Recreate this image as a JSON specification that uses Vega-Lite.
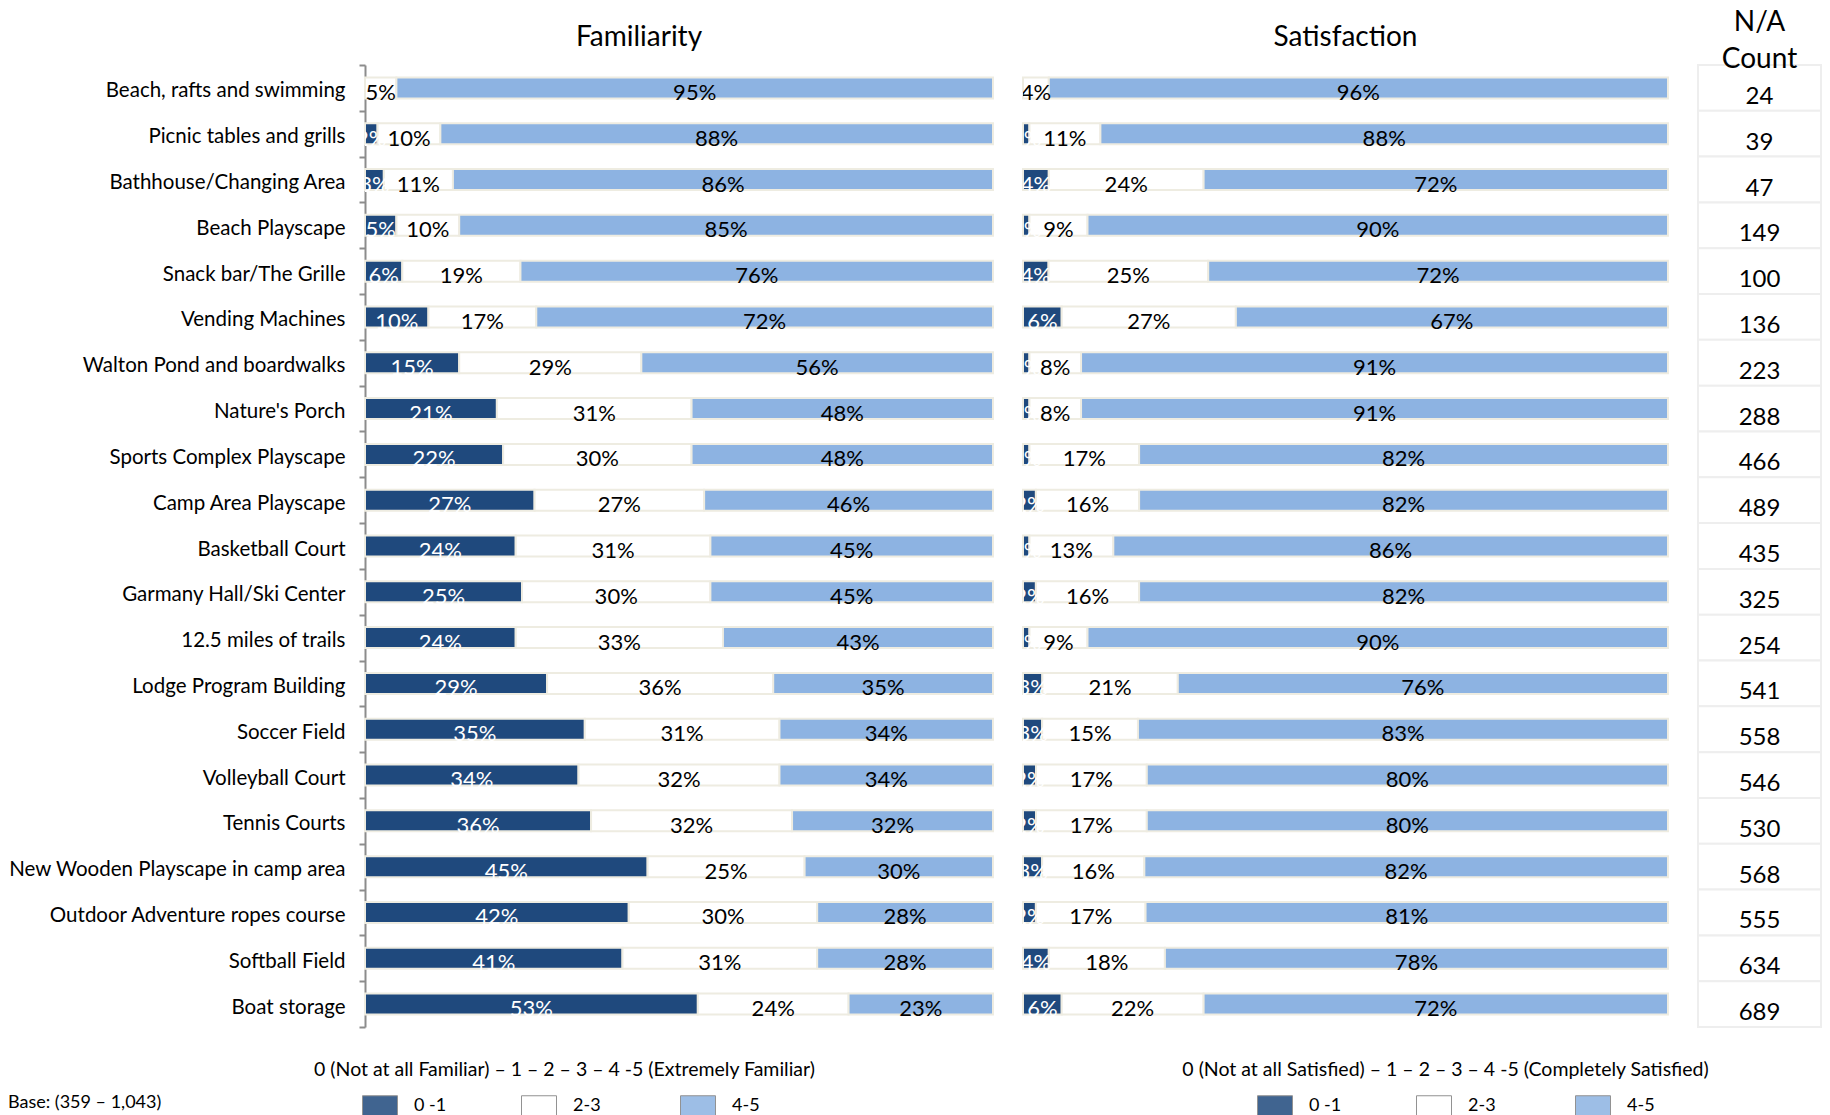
{
"$schema": "https://vega.github.io/schema/vega-lite/v6.json",
"padding": {"left": 8, "top": 9, "right": 0, "bottom": 0},
"config": {"view": {"stroke": null}, "font": "Lato", "title": {"font": "Lato", "fontWeight": "normal", "color": "#000000", "frame": "group"}},
"datasets": {
"d": [
{"item":"Beach, rafts and swimming","cat":"0 -1","fam":0,"sat":0},
{"item":"Beach, rafts and swimming","cat":"2-3","fam":0.05,"sat":0.04},
{"item":"Beach, rafts and swimming","cat":"4-5","fam":0.95,"sat":0.96},
{"item":"Picnic tables and grills","cat":"0 -1","fam":0.02,"sat":0.01},
{"item":"Picnic tables and grills","cat":"2-3","fam":0.10,"sat":0.11},
{"item":"Picnic tables and grills","cat":"4-5","fam":0.88,"sat":0.88},
{"item":"Bathhouse/Changing Area","cat":"0 -1","fam":0.03,"sat":0.04},
{"item":"Bathhouse/Changing Area","cat":"2-3","fam":0.11,"sat":0.24},
{"item":"Bathhouse/Changing Area","cat":"4-5","fam":0.86,"sat":0.72},
{"item":"Beach Playscape","cat":"0 -1","fam":0.05,"sat":0.01},
{"item":"Beach Playscape","cat":"2-3","fam":0.10,"sat":0.09},
{"item":"Beach Playscape","cat":"4-5","fam":0.85,"sat":0.90},
{"item":"Snack bar/The Grille","cat":"0 -1","fam":0.06,"sat":0.04},
{"item":"Snack bar/The Grille","cat":"2-3","fam":0.19,"sat":0.25},
{"item":"Snack bar/The Grille","cat":"4-5","fam":0.76,"sat":0.72},
{"item":"Vending Machines","cat":"0 -1","fam":0.10,"sat":0.06},
{"item":"Vending Machines","cat":"2-3","fam":0.17,"sat":0.27},
{"item":"Vending Machines","cat":"4-5","fam":0.72,"sat":0.67},
{"item":"Walton Pond and boardwalks","cat":"0 -1","fam":0.15,"sat":0.01},
{"item":"Walton Pond and boardwalks","cat":"2-3","fam":0.29,"sat":0.08},
{"item":"Walton Pond and boardwalks","cat":"4-5","fam":0.56,"sat":0.91},
{"item":"Nature's Porch","cat":"0 -1","fam":0.21,"sat":0.01},
{"item":"Nature's Porch","cat":"2-3","fam":0.31,"sat":0.08},
{"item":"Nature's Porch","cat":"4-5","fam":0.48,"sat":0.91},
{"item":"Sports Complex Playscape","cat":"0 -1","fam":0.22,"sat":0.01},
{"item":"Sports Complex Playscape","cat":"2-3","fam":0.30,"sat":0.17},
{"item":"Sports Complex Playscape","cat":"4-5","fam":0.48,"sat":0.82},
{"item":"Camp Area Playscape","cat":"0 -1","fam":0.27,"sat":0.02},
{"item":"Camp Area Playscape","cat":"2-3","fam":0.27,"sat":0.16},
{"item":"Camp Area Playscape","cat":"4-5","fam":0.46,"sat":0.82},
{"item":"Basketball Court","cat":"0 -1","fam":0.24,"sat":0.01},
{"item":"Basketball Court","cat":"2-3","fam":0.31,"sat":0.13},
{"item":"Basketball Court","cat":"4-5","fam":0.45,"sat":0.86},
{"item":"Garmany Hall/Ski Center","cat":"0 -1","fam":0.25,"sat":0.02},
{"item":"Garmany Hall/Ski Center","cat":"2-3","fam":0.30,"sat":0.16},
{"item":"Garmany Hall/Ski Center","cat":"4-5","fam":0.45,"sat":0.82},
{"item":"12.5 miles of trails","cat":"0 -1","fam":0.24,"sat":0.01},
{"item":"12.5 miles of trails","cat":"2-3","fam":0.33,"sat":0.09},
{"item":"12.5 miles of trails","cat":"4-5","fam":0.43,"sat":0.90},
{"item":"Lodge Program Building","cat":"0 -1","fam":0.29,"sat":0.03},
{"item":"Lodge Program Building","cat":"2-3","fam":0.36,"sat":0.21},
{"item":"Lodge Program Building","cat":"4-5","fam":0.35,"sat":0.76},
{"item":"Soccer Field","cat":"0 -1","fam":0.35,"sat":0.03},
{"item":"Soccer Field","cat":"2-3","fam":0.31,"sat":0.15},
{"item":"Soccer Field","cat":"4-5","fam":0.34,"sat":0.83},
{"item":"Volleyball Court","cat":"0 -1","fam":0.34,"sat":0.02},
{"item":"Volleyball Court","cat":"2-3","fam":0.32,"sat":0.17},
{"item":"Volleyball Court","cat":"4-5","fam":0.34,"sat":0.80},
{"item":"Tennis Courts","cat":"0 -1","fam":0.36,"sat":0.02},
{"item":"Tennis Courts","cat":"2-3","fam":0.32,"sat":0.17},
{"item":"Tennis Courts","cat":"4-5","fam":0.32,"sat":0.80},
{"item":"New Wooden Playscape in camp area","cat":"0 -1","fam":0.45,"sat":0.03},
{"item":"New Wooden Playscape in camp area","cat":"2-3","fam":0.25,"sat":0.16},
{"item":"New Wooden Playscape in camp area","cat":"4-5","fam":0.30,"sat":0.82},
{"item":"Outdoor Adventure ropes course","cat":"0 -1","fam":0.42,"sat":0.02},
{"item":"Outdoor Adventure ropes course","cat":"2-3","fam":0.30,"sat":0.17},
{"item":"Outdoor Adventure ropes course","cat":"4-5","fam":0.28,"sat":0.81},
{"item":"Softball Field","cat":"0 -1","fam":0.41,"sat":0.04},
{"item":"Softball Field","cat":"2-3","fam":0.31,"sat":0.18},
{"item":"Softball Field","cat":"4-5","fam":0.28,"sat":0.78},
{"item":"Boat storage","cat":"0 -1","fam":0.53,"sat":0.06},
{"item":"Boat storage","cat":"2-3","fam":0.24,"sat":0.22},
{"item":"Boat storage","cat":"4-5","fam":0.23,"sat":0.72}
],
"na": [
{"item":"Beach, rafts and swimming","na":24},
{"item":"Picnic tables and grills","na":39},
{"item":"Bathhouse/Changing Area","na":47},
{"item":"Beach Playscape","na":149},
{"item":"Snack bar/The Grille","na":100},
{"item":"Vending Machines","na":136},
{"item":"Walton Pond and boardwalks","na":223},
{"item":"Nature's Porch","na":288},
{"item":"Sports Complex Playscape","na":466},
{"item":"Camp Area Playscape","na":489},
{"item":"Basketball Court","na":435},
{"item":"Garmany Hall/Ski Center","na":325},
{"item":"12.5 miles of trails","na":254},
{"item":"Lodge Program Building","na":541},
{"item":"Soccer Field","na":558},
{"item":"Volleyball Court","na":546},
{"item":"Tennis Courts","na":530},
{"item":"New Wooden Playscape in camp area","na":568},
{"item":"Outdoor Adventure ropes course","na":555},
{"item":"Softball Field","na":634},
{"item":"Boat storage","na":689}
]
},
"title": {"text": "Base: (359 – 1,043)", "orient": "bottom", "anchor": "start", "frame": "bounds", "offset": -25, "dx": 0, "fontSize": 18, "font": "Lato", "fontWeight": "normal"},
"spacing": 30,
"bounds": "flush",
"resolve": {"scale": {"color": "independent", "x": "independent"}, "legend": {"color": "independent"}},
"hconcat": [
{
 "width": 628, "height": 962,
 "data": {"name": "d"},
 "title": {"text": "Familiarity", "fontSize": 28, "offset": 3, "dx": -40},
 "transform": [
  {"stack": "fam", "groupby": ["item"], "sort": [{"field": "cat"}], "offset": "normalize", "as": ["f0", "f1"]},
  {"calculate": "(datum.f0 + datum.f1) / 2", "as": "fm"}
 ],
 "encoding": {
  "y": {"field": "item", "type": "nominal", "sort": null, "scale": {"paddingInner": 0, "paddingOuter": 0},
        "axis": {"title": null, "labelFontSize": 20.5, "labelColor": "#000000", "labelPadding": 14, "labelOffset": 3, "labelLimit": 500, "domainColor": "#8c8c8c", "domainWidth": 2, "tickColor": "#8c8c8c", "tickWidth": 2, "tickSize": 6, "tickBand": "extent"}}
 },
 "layer": [
  {"mark": {"type": "bar", "size": 21, "stroke": "#EEECE1", "strokeWidth": 2},
   "encoding": {
    "x": {"field": "f0", "type": "quantitative", "scale": {"domain": [0, 1], "nice": false},
          "axis": {"title": "0 (Not at all Familiar) – 1 – 2 – 3 – 4 -5 (Extremely Familiar)", "labels": false, "ticks": false, "domain": false, "grid": false, "titleFontSize": 19.5, "titleFontWeight": "normal", "titleColor": "#000000", "titlePadding": 33, "titleX": 199, "titleAlign": "center"}},
    "x2": {"field": "f1"},
    "color": {"field": "cat", "type": "nominal", "scale": {"domain": ["0 -1", "2-3", "4-5"], "range": ["#1F497D", "#FFFFFF", "#8DB3E2"]},
      "legend": {"title": null, "orient": "none", "direction": "horizontal", "legendX": -3, "legendY": 1023, "symbolType": "M-1,-0.6H1V0.6H-1Z", "symbolSize": 1225, "symbolStrokeColor": "#7f7f7f", "symbolStrokeWidth": 1, "symbolOpacity": 0.85, "labelFontSize": 18, "labelColor": "#000000", "labelOffset": 16, "columnPadding": 72, "gridAlign": "all"}}
   }},
  {"mark": {"type": "text", "fontSize": 22, "baseline": "middle", "dy": 5, "clip": true},
   "transform": [{"filter": "datum.fam > 0"}],
   "encoding": {
    "x": {"field": "fm", "type": "quantitative"},
    "text": {"field": "fam", "format": ".0%"},
    "color": {"condition": {"test": "datum.cat === '0 -1'", "value": "#FFFFFF"}, "value": "#000000"}
   }}
 ]
},
{
 "width": 645, "height": 962,
 "data": {"name": "d"},
 "title": {"text": "Satisfaction", "fontSize": 28, "offset": 13},
 "transform": [
  {"stack": "sat", "groupby": ["item"], "sort": [{"field": "cat"}], "offset": "normalize", "as": ["s0", "s1"]},
  {"calculate": "(datum.s0 + datum.s1) / 2", "as": "sm"}
 ],
 "encoding": {
  "y": {"field": "item", "type": "nominal", "sort": null, "scale": {"paddingInner": 0, "paddingOuter": 0}, "axis": null}
 },
 "layer": [
  {"mark": {"type": "bar", "size": 21, "stroke": "#EEECE1", "strokeWidth": 2},
   "encoding": {
    "x": {"field": "s0", "type": "quantitative", "scale": {"domain": [0, 1], "nice": false},
          "axis": {"title": "0 (Not at all Satisfied) – 1 – 2 – 3 – 4 -5 (Completely Satisfied)", "labels": false, "ticks": false, "domain": false, "grid": false, "titleFontSize": 19.5, "titleFontWeight": "normal", "titleColor": "#000000", "titlePadding": 33, "titleX": 422, "titleAlign": "center"}},
    "x2": {"field": "s1"},
    "color": {"field": "cat", "type": "nominal", "scale": {"domain": ["0 -1", "2-3", "4-5"], "range": ["#1F497D", "#FFFFFF", "#8DB3E2"]},
      "legend": {"title": null, "orient": "none", "direction": "horizontal", "legendX": 234, "legendY": 1023, "symbolType": "M-1,-0.6H1V0.6H-1Z", "symbolSize": 1225, "symbolStrokeColor": "#7f7f7f", "symbolStrokeWidth": 1, "symbolOpacity": 0.85, "labelFontSize": 18, "labelColor": "#000000", "labelOffset": 16, "columnPadding": 72, "gridAlign": "all"}}
   }},
  {"mark": {"type": "text", "fontSize": 22, "baseline": "middle", "dy": 5, "clip": true},
   "transform": [{"filter": "datum.sat > 0"}],
   "encoding": {
    "x": {"field": "sm", "type": "quantitative"},
    "text": {"field": "sat", "format": ".0%"},
    "color": {"condition": {"test": "datum.cat === '0 -1'", "value": "#FFFFFF"}, "value": "#000000"}
   }}
 ]
},
{
 "width": 123, "height": 962,
 "data": {"name": "na"},
 "title": {"text": ["N/A", "Count"], "fontSize": 28, "lineHeight": 37, "offset": -10},
 "encoding": {
  "y": {"field": "item", "type": "nominal", "sort": null, "scale": {"paddingInner": 0, "paddingOuter": 0}, "axis": null}
 },
 "layer": [
  {"mark": {"type": "rect", "fill": "#FFFFFF", "stroke": "#EEEEEE", "strokeWidth": 2},
   "encoding": {
    "x": {"datum": 0, "type": "quantitative", "scale": {"domain": [0, 1]}, "axis": null},
    "x2": {"datum": 1}
   }},
  {"mark": {"type": "text", "fontSize": 24, "baseline": "middle", "dy": 9},
   "encoding": {
    "x": {"datum": 0.5, "type": "quantitative"},
    "text": {"field": "na", "type": "quantitative"},
    "color": {"value": "#000000"}
   }}
 ]
}
]
}
